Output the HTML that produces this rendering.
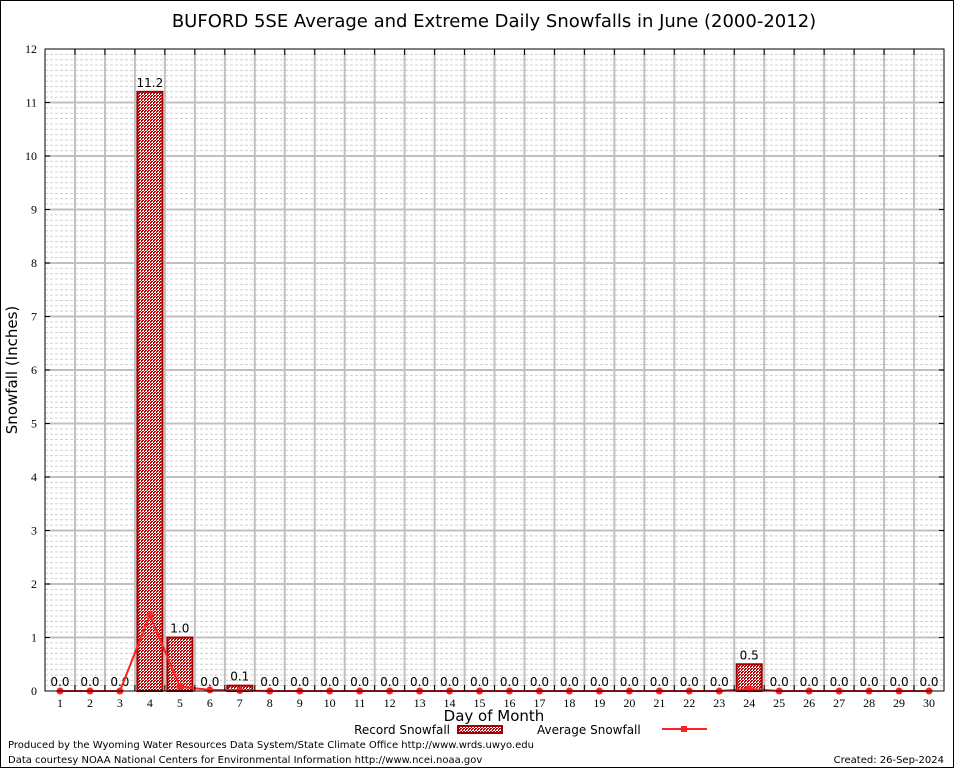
<!DOCTYPE html>
<html><head><meta charset="utf-8"><style>
body{margin:0;background:#fff}
svg{display:block;font-family:"DejaVu Sans","Liberation Sans",sans-serif}
</style></head><body>
<svg id="c" width="954" height="768">
<defs>
<pattern id="chk" width="3" height="3" patternUnits="userSpaceOnUse">
<rect width="3" height="3" fill="#fff"/><rect width="2" height="1" fill="#c00000"/><rect x="1" y="2" width="2" height="1" fill="#c00000"/><rect x="0" y="1" width="1" height="1" fill="#c00000"/>
</pattern>
</defs>
<rect x="0.5" y="0.5" width="953" height="767" fill="#fff" stroke="#000"/>
<text x="494" y="27" font-size="18" text-anchor="middle">BUFORD 5SE Average and Extreme Daily Snowfalls in June (2000-2012)</text>
<g id="grid"></g>
<g id="bars"></g>
<g id="avg"></g>
<g id="axes"></g>
<text x="494" y="721" font-size="15" text-anchor="middle">Day of Month</text>
<text transform="translate(17,370) rotate(-90)" font-size="15" text-anchor="middle">Snowfall (Inches)</text>
<g>
<text x="450" y="734" font-size="12" text-anchor="end">Record Snowfall</text>
<rect x="458" y="726" width="44" height="7" fill="url(#chk)" stroke="#a00000" stroke-width="2"/>
<text x="537" y="734" font-size="12">Average Snowfall</text>
<line x1="662" y1="729" x2="707" y2="729" stroke="#ff2020" stroke-width="2"/>
<rect x="681" y="726" width="6" height="6" fill="#ff2020"/>
</g>
<text x="8" y="748" font-size="10">Produced by the Wyoming Water Resources Data System/State Climate Office http://www.wrds.uwyo.edu</text>
<text x="8" y="763" font-size="10">Data courtesy NOAA National Centers for Environmental Information http://www.ncei.noaa.gov</text>
<text x="944" y="763" font-size="10" text-anchor="end">Created:  26-Sep-2024</text>
</svg>
<script>
const days=[1,2,3,4,5,6,7,8,9,10,11,12,13,14,15,16,17,18,19,20,21,22,23,24,25,26,27,28,29,30];
const recordSnow=[0,0,0,11.2,1.0,0,0.1,0,0,0,0,0,0,0,0,0,0,0,0,0,0,0,0,0.5,0,0,0,0,0,0];
const avgSnow=[0,0,0,1.42,0.08,0.02,0.01,0,0,0,0,0,0,0,0,0,0,0,0,0,0,0,0,0.04,0,0,0,0,0,0];
const yTicks=[0,1,2,3,4,5,6,7,8,9,10,11,12];
const L=45,R=944,T=49,B=691,yMax=12;
const step=(R-L)/days.length;
const xs=d=>L+(d-0.5)*step;
const ys=v=>B-v*(B-T)/yMax;
const NS='http://www.w3.org/2000/svg';
function mk(tag,a,parent){const e=document.createElementNS(NS,tag);for(const k in a)e.setAttribute(k,a[k]);parent.appendChild(e);return e;}
const grid=document.getElementById('grid'),bars=document.getElementById('bars'),avg=document.getElementById('avg'),axes=document.getElementById('axes');
for(let i=1;i<yMax*10;i++){if(i%10===0)continue;const y=ys(i/10);
 const l=mk('line',{x1:L,x2:R,y1:y,y2:y,stroke:'#d0d0d0','stroke-width':1,'stroke-dasharray':'3,2'},grid);
 
 }
for(let k=1;k<days.length;k++){const x=L+k*step;
 const l=mk('line',{x1:x,x2:x,y1:T,y2:B,stroke:'#c0c0c0','stroke-width':2},grid);
 
 }
yTicks.forEach(v=>{const y=ys(v);
 if(v>0&&v<yMax){const l=mk('line',{x1:L,x2:R,y1:y,y2:y,stroke:'#c0c0c0','stroke-width':2},grid);
 
 }
 const t=mk('text',{x:L-8,y:y+4,'font-size':12,'text-anchor':'end','font-family':'Liberation Serif, serif'},axes);t.textContent=v;
 
 
 mk('line',{x1:L,x2:L+5,y1:y,y2:y,stroke:'#000'},axes);mk('line',{x1:R-5,x2:R,y1:y,y2:y,stroke:'#000'},axes);});
days.forEach((d,i)=>{const x=xs(d),v=recordSnow[i];
 if(v>0){const r=mk('rect',{x:x-12.5,y:ys(v),width:25,height:B-ys(v),fill:'url(#chk)',stroke:'#a00000','stroke-width':2},bars);
 
 }
 const t=mk('text',{x:x,y:ys(v)-5,'font-size':12,'text-anchor':'middle'},bars);t.textContent=v.toFixed(1);
 
 
 const xt=mk('text',{x:x,y:B+16,'font-size':12,'text-anchor':'middle','font-family':'Liberation Serif, serif'},axes);xt.textContent=d;
 
 });
for(let k=1;k<days.length;k++){const x=L+k*step;mk('line',{x1:x,x2:x,y1:T,y2:T+6,stroke:'#000'},axes);mk('line',{x1:x,x2:x,y1:B-6,y2:B,stroke:'#000'},axes);}
const pts=days.map((d,i)=>xs(d)+','+ys(avgSnow[i])).join(' ');
const pl=mk('polyline',{points:pts,fill:'none',stroke:'#ff2020','stroke-width':2},avg);


days.forEach((d,i)=>{const m=mk('circle',{cx:xs(d),cy:ys(avgSnow[i]),r:3.5,fill:'#ff2020'},avg);
 
 });
const fr=mk('rect',{x:L,y:T,width:R-L,height:B-T,fill:'none',stroke:'#000','stroke-width':1},axes);


</script>
</body></html>
